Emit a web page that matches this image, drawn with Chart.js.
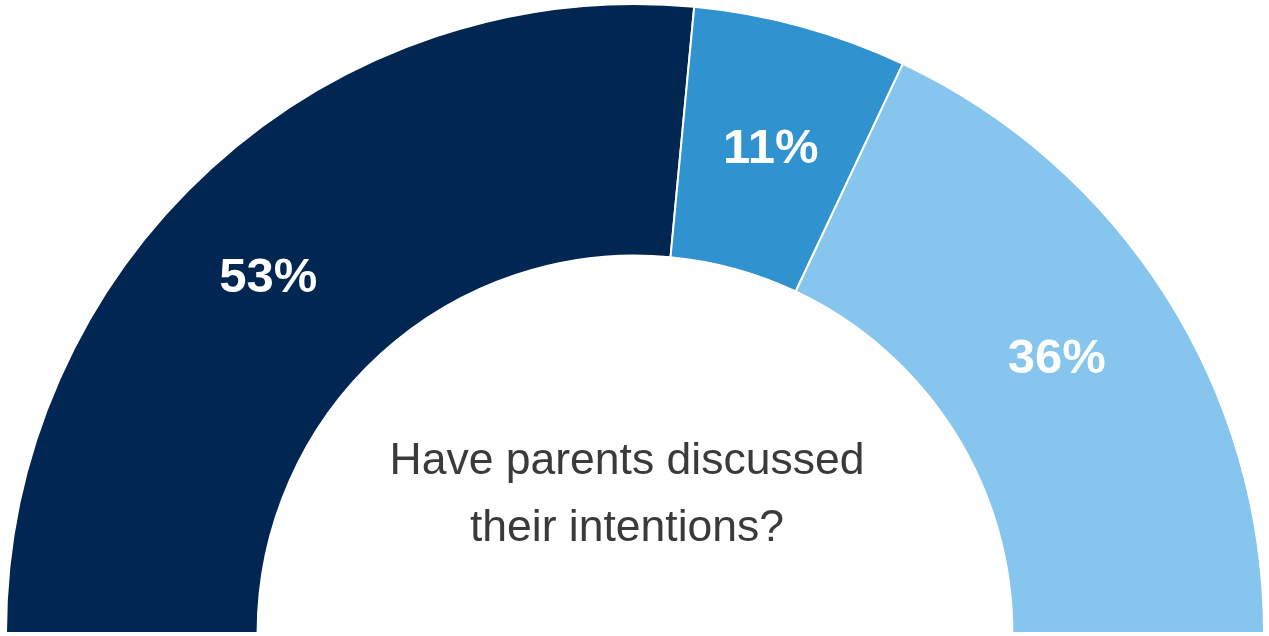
<!DOCTYPE html>
<html>
<head>
<meta charset="utf-8">
<script src="https://cdn.jsdelivr.net/npm/chart.js@4"></script>
<style>
  html, body { margin: 0; padding: 0; background: #fff; }
  .graph-container { width: 1269px; height: 636px; position: relative; }
</style>
</head>
<body>
<div class="graph-container">
  <canvas id="chart"></canvas>
</div>
<script>
const categories = ['Yes', 'Partly', 'No'];
const shares = [53, 11, 36];
const sliceColors = ['#012652', '#3192d0', '#85c5ee'];
const centerLines = ['Have parents discussed', 'their intentions?'];
// small hand nudges of the labels (px), style only
const labelNudge = [[-28, 18], [3, 2], [-3, -4]];

// white percent labels in the middle of each slice
const sliceLabels = {
  id: 'sliceLabels',
  afterDatasetsDraw(chart) {
    const ctx = chart.ctx;
    const meta = chart.getDatasetMeta(0);
    ctx.save();
    ctx.fillStyle = '#ffffff';
    ctx.font = 'bold 49px "Liberation Sans", Arial, sans-serif';
    ctx.textAlign = 'center';
    ctx.textBaseline = 'middle';
    meta.data.forEach((arc, i) => {
      const p = arc.tooltipPosition();
      ctx.fillText(shares[i] + '%', p.x + labelNudge[i][0], p.y + labelNudge[i][1]);
    });
    ctx.restore();
  }
};

const centerText = {
  id: 'centerText',
  afterDraw(chart) {
    const ctx = chart.ctx;
    const arc = chart.getDatasetMeta(0).data[0];
    ctx.save();
    ctx.fillStyle = '#3a3a3a';
    ctx.font = '44.5px "Liberation Sans", Arial, sans-serif';
    ctx.textAlign = 'center';
    ctx.textBaseline = 'alphabetic';
    ctx.fillText(centerLines[0], arc.x - 8, 474);
    ctx.fillText(centerLines[1], arc.x - 8, 541);
    ctx.restore();
  }
};

new Chart(document.getElementById('chart').getContext('2d'), {
  type: 'doughnut',
  data: {
    labels: categories,
    datasets: [{
      data: shares,
      backgroundColor: sliceColors,
      borderColor: '#ffffff',
      borderWidth: 2
    }]
  },
  options: {
    responsive: true,
    maintainAspectRatio: false,
    animation: false,
    rotation: -90,
    circumference: 180,
    cutout: '60%',
    layout: { padding: { left: 5, right: 4, top: 3, bottom: 2 } },
    plugins: {
      legend: { display: false },
      tooltip: { enabled: false }
    }
  },
  plugins: [sliceLabels, centerText]
});
</script>
</body>
</html>
